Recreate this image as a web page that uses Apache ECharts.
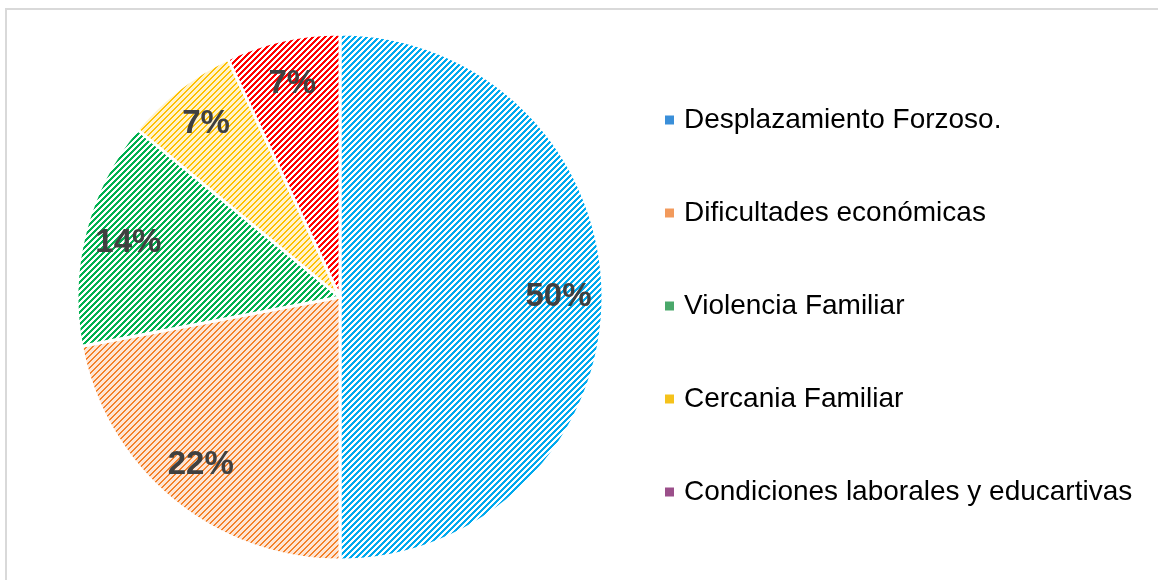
<!DOCTYPE html>
<html>
<head>
<meta charset="utf-8">
<script src="https://cdn.jsdelivr.net/npm/echarts@6/dist/echarts.min.js"></script>
<style>
  html, body { margin: 0; padding: 0; background: #fff; }
  #frame { position: absolute; left: 5px; top: 8px; width: 1160px; height: 580px; border-left: 2px solid #d9d9d9; border-top: 2px solid #d9d9d9; }
  #main { position: absolute; left: 0; top: 0; width: 1158px; height: 580px; }
</style>
</head>
<body>
<div id="frame"></div>
<div id="main"></div>
<script>
// categories and percentages
const categories = [
  "Desplazamiento Forzoso.",
  "Dificultades económicas",
  "Violencia Familiar",
  "Cercania Familiar",
  "Condiciones laborales y educartivas"
];
const values = [50, 22, 14, 7, 7];

// stripe colour / background colour per slice
const stripeColors = ["#00a9ee", "#f4812a", "#00b050", "#ffc000", "#ff0000"];
const backColors = ["#ffffff", "#fde6d6", "#ffffff", "#fff3cc", "#ffffff"];
const stripeWidth = [3, 2, 3, 2, 3];
const iconColors = ["#3a8fd9", "#f29a5c", "#4aa86a", "#f5c21b", "#9b4f8a"];

// small pixel hatch "/" like the excel pattern fill
function hatch(fg, bg, w) {
  let c = document.createElement("canvas");
  c.width = 6;
  c.height = 6;
  let ctx = c.getContext("2d");
  ctx.fillStyle = bg;
  ctx.fillRect(0, 0, 6, 6);
  ctx.fillStyle = fg;
  for (let x = 0; x < 6; x++) {
    for (let y = 0; y < 6; y++) {
      if ((x + y) % 6 < w) ctx.fillRect(x, y, 1, 1);
    }
  }
  return { image: c, repeat: "repeat" };
}

let myChart = echarts.init(document.getElementById("main"));
let pieData = [],
  labelData = [],
  legendData = [];
for (let i = 0; i < categories.length; i++) {
  pieData.push({
    name: categories[i],
    value: values[i],
    itemStyle: { color: hatch(stripeColors[i], backColors[i], stripeWidth[i]) }
  });
  labelData.push({ value: values[i] });
  legendData.push({ name: categories[i], itemStyle: { color: iconColors[i] } });
}

let option = {
  animation: false,
  legend: {
    orient: "vertical",
    left: 658,
    top: 101,
    itemWidth: 11,
    itemHeight: 11,
    itemGap: 65,
    icon: "rect",
    data: legendData,
    textStyle: {
      fontFamily: "Arial, 'Liberation Sans'",
      fontSize: 28,
      lineHeight: 28,
      color: "#000",
      padding: [0, 0, 0, 4]
    }
  },
  series: [
    {
      type: "pie",
      center: [340, 297],
      radius: [0, 263],
      startAngle: 90,
      clockwise: true,
      silent: true,
      data: pieData,
      itemStyle: { borderColor: "#fff", borderWidth: 3 },
      label: { show: false },
      labelLine: { show: false }
    },
    {
      // transparent ring only used to place the percent labels near the rim
      type: "pie",
      center: [340, 297],
      radius: [168, 263],
      startAngle: 90,
      clockwise: true,
      silent: true,
      data: labelData,
      itemStyle: { color: "rgba(0,0,0,0)" },
      label: {
        show: true,
        position: "inside",
        formatter: "{c}%",
        fontFamily: "Arial, 'Liberation Sans'",
        fontWeight: "bold",
        fontSize: 33,
        color: "#404040"
      },
      labelLine: { show: false }
    }
  ]
};

myChart.setOption(option);
</script>
</body>
</html>
